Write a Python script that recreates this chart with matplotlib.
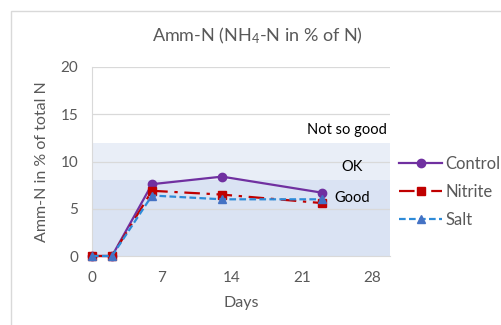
import numpy as np
import matplotlib
matplotlib.use("Agg")
from matplotlib import pyplot as plt
from matplotlib.patches import Rectangle

# sampling days and measured ammonium share (% of total N)
days = [0, 2, 6, 13, 23]
control = [0, 0, 7.6, 8.4, 6.7]
nitrite = [0, 0, 6.9, 6.5, 5.6]
salt = [0, 0, 6.4, 6.0, 6.0]

# quality bands (lower, upper, label)
band_good = (0, 8, "Good")
band_ok = (8, 12, "OK")
band_bad_label = "Not so good"

x_ticks = [0, 7, 14, 21, 28]
y_ticks = [0, 5, 10, 15, 20]

plt.rcParams['font.family'] = ['Lato', 'DejaVu Sans']
plt.rcParams['mathtext.fontset'] = 'custom'
plt.rcParams['mathtext.rm'] = 'Lato'
plt.rcParams['mathtext.it'] = 'Lato:italic'

W, H = 501, 325
fig = plt.figure(figsize=(W / 100, H / 100), dpi=100)

# chart area outline
fig.patches.append(Rectangle((11 / W, -0.1), 1.2, 1 - 11 / H + 0.1,
                             transform=fig.transFigure, fill=False,
                             edgecolor='#D9D9D9', linewidth=1.0))

ax = fig.add_axes([92 / W, (H - 256) / H, 298 / W, 189 / H])

ax.axhspan(band_good[0], band_good[1], color='#DAE3F3', zorder=0, lw=0)
ax.axhspan(band_ok[0], band_ok[1], color='#E9EEF7', zorder=0, lw=0)

for y in y_ticks[1:]:
    ax.axhline(y, color='#D9D9D9', lw=0.9, zorder=1)

ax.plot(days, control, color='#7030A0', lw=1.6, marker='o', ms=6,
        label='Control', zorder=4, clip_on=False)
ax.plot(days, nitrite, color='#C00000', lw=1.6, dashes=(7, 3, 1.5, 3),
        marker='s', ms=6, label='Nitrite', zorder=5, clip_on=False)
ax.plot(days, salt, color='#2E8BD8', lw=1.6, dashes=(3, 1.5),
        marker='^', ms=6, mfc='#4472C4', mec='#4472C4', label='Salt',
        zorder=5, clip_on=False)

ax.text(29.5, 13.3, band_bad_label, ha='right', va='center', fontsize=10.5, color='black')
ax.text(26.0, 9.4, band_ok[2], ha='center', va='center', fontsize=10.5, color='black')
ax.text(26.0, 6.1, band_good[2], ha='center', va='center', fontsize=10.5, color='black')

ax.set_xlim(0, 29.8)
ax.set_ylim(0, 20)
ax.set_xticks(x_ticks)
ax.set_yticks(y_ticks)
ax.tick_params(length=0, labelsize=11, labelcolor='#595959')
ax.tick_params(axis='x', pad=11)
ax.tick_params(axis='y', pad=10)
for s in ['top', 'right']:
    ax.spines[s].set_visible(False)
for s in ['left', 'bottom']:
    ax.spines[s].set_color('#D9D9D9')
ax.set_facecolor('none')

ax.set_xlabel('Days', fontsize=11.5, color='#595959', labelpad=8)
ax.set_ylabel('Amm-N in % of total N', fontsize=11.5, color='#595959', labelpad=8)

fig.text(257 / W, 1 - 36 / H, r'Amm-N (NH$_4$-N in % of N)', ha='center',
         va='center', fontsize=13, color='#595959')

fig.legend(loc='upper left', bbox_to_anchor=(384 / W, 1 - 141 / H),
           frameon=False, fontsize=12, labelspacing=0.72,
           handlelength=2.6, handletextpad=0.2, labelcolor='#595959')

fig.savefig('out.png', dpi=100)
